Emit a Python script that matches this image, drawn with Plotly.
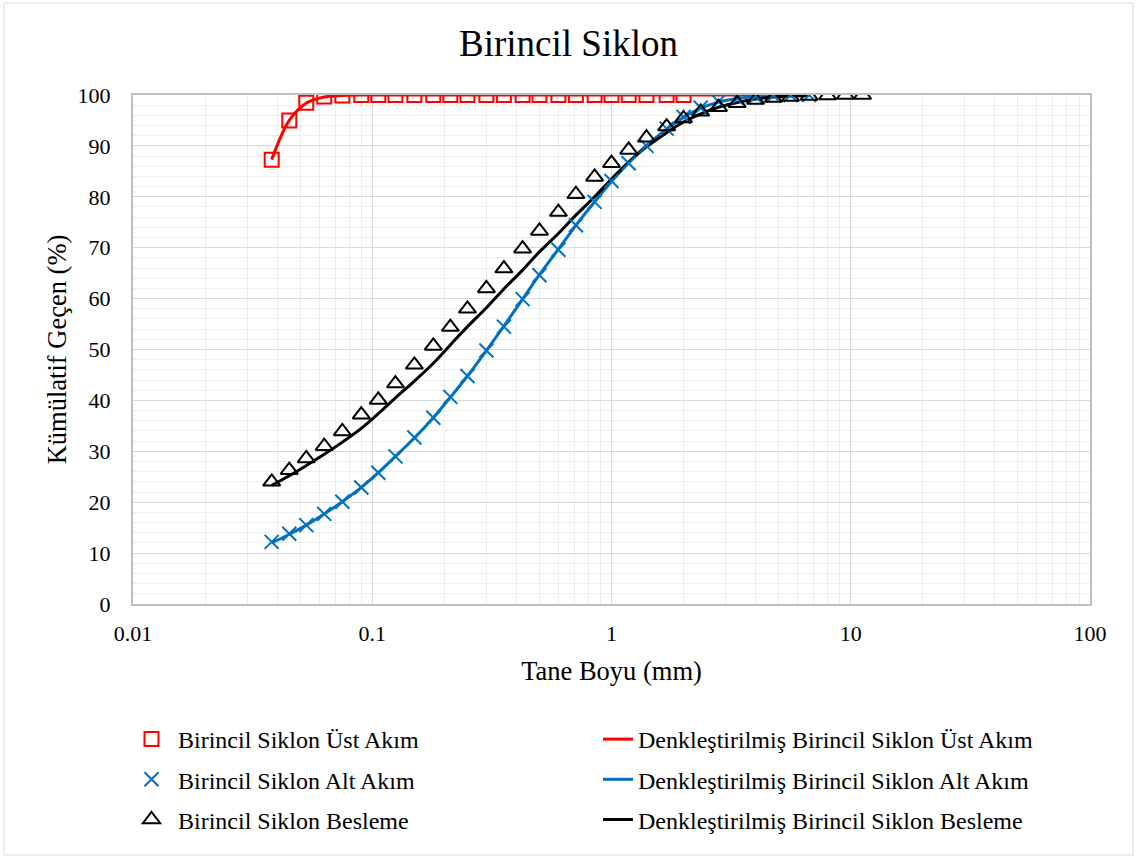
import plotly.graph_objects as go

# Sieve sizes (mm)
sizes = [0.038, 0.045, 0.053, 0.063, 0.075, 0.090, 0.106, 0.125, 0.150, 0.180,
         0.212, 0.250, 0.300, 0.355, 0.425, 0.500, 0.600, 0.710, 0.850, 1.000,
         1.180, 1.400, 1.700, 2.000, 2.360, 2.800, 3.350, 4.000, 4.750, 5.600,
         6.700, 8.000, 9.500, 11.200]

# Overflow (Üst Akım) – measured, 0.038 .. 2.0 mm
ust_x = sizes[:24]
ust_y = [87.3, 95.0, 98.5, 99.7, 99.9, 100, 100, 100, 100, 100,
         100, 100, 100, 100, 100, 100, 100, 100, 100, 100,
         100, 100, 100, 100]
# Overflow fitted
ust_fit_x = sizes[:31]
ust_fit_y = [87.3, 95.0, 98.4, 99.6, 99.9, 100, 100, 100, 100, 100,
             100, 100, 100, 100, 100, 100, 100, 100, 100, 100,
             100, 100, 100, 100, 100, 100, 100, 100, 100, 100, 100]

# Underflow (Alt Akım) – measured, 0.038 .. 6.7 mm
alt_x = sizes[:31]
alt_y = [12.2, 13.8, 15.5, 17.7, 20.1, 22.9, 25.8, 29.0, 32.7, 36.6,
         40.7, 44.8, 49.8, 54.5, 59.9, 64.6, 69.6, 74.4, 79.0, 83.1,
         86.6, 90.0, 93.4, 95.7, 97.5, 98.7, 99.3, 99.7, 99.9, 100, 100]
# Underflow fitted
alt_fit_x = sizes[:31]
alt_fit_y = [12.0, 13.7, 15.5, 17.7, 20.1, 22.9, 25.8, 29.0, 32.6, 36.6,
             40.6, 44.8, 49.8, 54.6, 59.9, 64.7, 69.7, 74.4, 79.0, 83.0,
             86.7, 90.1, 93.3, 95.6, 97.4, 98.6, 99.3, 99.7, 99.9, 100, 100]

# Feed (Besleme) – measured, 0.038 .. 11.2 mm
bes_x = sizes
bes_y = [24.0, 26.3, 28.6, 31.0, 33.9, 37.2, 40.1, 43.3, 47.0, 50.7,
         54.4, 58.0, 62.0, 65.9, 69.8, 73.3, 77.0, 80.5, 83.9, 86.6,
         89.2, 91.6, 93.8, 95.4, 96.7, 97.6, 98.4, 99.0, 99.4, 99.6,
         99.8, 99.9, 100, 100]
# Feed fitted
bes_fit_x = sizes[:31]
bes_fit_y = [23.3, 25.2, 27.2, 29.4, 31.8, 34.5, 37.4, 40.5, 43.8, 47.3,
             50.9, 54.5, 58.2, 61.9, 65.6, 69.2, 72.8, 76.4, 80.0, 83.5,
             86.8, 89.8, 92.6, 94.7, 96.3, 97.6, 98.5, 99.2, 99.6, 99.8, 99.9]

x_tickvals = [0.01, 0.1, 1, 10, 100]
x_ticktext = ["0.01", "0.1", "1", "10", "100"]

RED = "#FF0000"
BLUE = "#0070C0"
BLACK = "#000000"
FONT = "Liberation Serif, Times New Roman, serif"

fig = go.Figure()

# fitted lines first (drawn under markers)
fig.add_trace(go.Scatter(x=ust_fit_x, y=ust_fit_y, mode="lines", line=dict(color=RED, width=3, shape="spline"),
                         name="Denkleştirilmiş Birincil Siklon Üst Akım", legend="legend2", legendgroup="f1", legendrank=1))
fig.add_trace(go.Scatter(x=alt_fit_x, y=alt_fit_y, mode="lines", line=dict(color=BLUE, width=3, shape="spline"),
                         name="Denkleştirilmiş Birincil Siklon Alt Akım", legend="legend2", legendgroup="f2", legendrank=2))
fig.add_trace(go.Scatter(x=bes_fit_x, y=bes_fit_y, mode="lines", line=dict(color=BLACK, width=3, shape="spline"),
                         name="Denkleştirilmiş Birincil Siklon Besleme", legend="legend2", legendgroup="f3", legendrank=3))

fig.add_trace(go.Scatter(x=ust_x, y=ust_y, mode="markers",
                         marker=dict(symbol="square-open", size=14, color=RED, line=dict(width=2, color=RED)),
                         name="Birincil Siklon Üst Akım", legend="legend", legendgroup="m1", legendrank=1))
fig.add_trace(go.Scatter(x=alt_x, y=alt_y, mode="markers",
                         marker=dict(symbol="x-thin-open", size=14, color=BLUE, line=dict(width=2, color=BLUE)),
                         name="Birincil Siklon Alt Akım", legend="legend", legendgroup="m2", legendrank=2))
fig.add_trace(go.Scatter(x=bes_x, y=bes_y, mode="markers",
                         marker=dict(symbol="triangle-up-open", size=15, color=BLACK, line=dict(width=2, color=BLACK)),
                         name="Birincil Siklon Besleme", legend="legend", legendgroup="m3", legendrank=3))

W, H = 1137, 859
L, R, T, B = 133, 47, 95, 255
pw, ph = W - L - R, H - T - B

def px(xp):
    return (xp - L) / pw

def py(yp):
    return (H - B - yp) / ph

fig.update_layout(
    width=W, height=H,
    margin=dict(l=L, r=R, t=T, b=B, autoexpand=False),
    paper_bgcolor="white", plot_bgcolor="white",
    font=dict(family=FONT, size=22, color="black"),
    title=dict(text="Birincil Siklon", x=0.5, xanchor="center", xref="container",
               y=1 - 43 / H, yanchor="middle", font=dict(family=FONT, size=37, color="black")),
    xaxis=dict(type="log", range=[-2, 2], tickvals=x_tickvals, ticktext=x_ticktext,
               showgrid=True, gridcolor="#d9d9d9", gridwidth=1,
               minor=dict(showgrid=True, gridcolor="#ededed", gridwidth=1, dtick="D1"),
               showline=True, linecolor="#bfbfbf", linewidth=2, mirror=True,
               ticks="", ticklabelstandoff=9, zeroline=False,
               title=dict(text="Tane Boyu (mm)", standoff=16, font=dict(size=26.5))),
    yaxis=dict(range=[0, 100], dtick=10, tick0=0,
               showgrid=True, gridcolor="#d9d9d9", gridwidth=1,
               minor=dict(showgrid=True, gridcolor="#ededed", gridwidth=1, dtick=2),
               showline=True, linecolor="#bfbfbf", linewidth=2, mirror=True,
               ticks="", ticklabelstandoff=16, zeroline=False,
               title=dict(text="Kümülatif Geçen (%)", standoff=3, font=dict(size=26.5))),
    legend=dict(x=px(125), xanchor="left", y=py(717), yanchor="top", orientation="v",
                bgcolor="rgba(0,0,0,0)", tracegroupgap=6, itemwidth=43, font=dict(size=24)),
    legend2=dict(x=px(598), xanchor="left", y=py(717), yanchor="top", orientation="v",
                 bgcolor="rgba(0,0,0,0)", tracegroupgap=6, font=dict(size=24)),
    shapes=[dict(type="rect", xref="paper", yref="paper",
                 x0=px(4), x1=px(1133), y0=py(855), y1=py(3),
                 line=dict(color="#d9d9d9", width=1), fillcolor="rgba(0,0,0,0)", layer="below")],
    showlegend=True,
)

fig.write_html("out.html")
